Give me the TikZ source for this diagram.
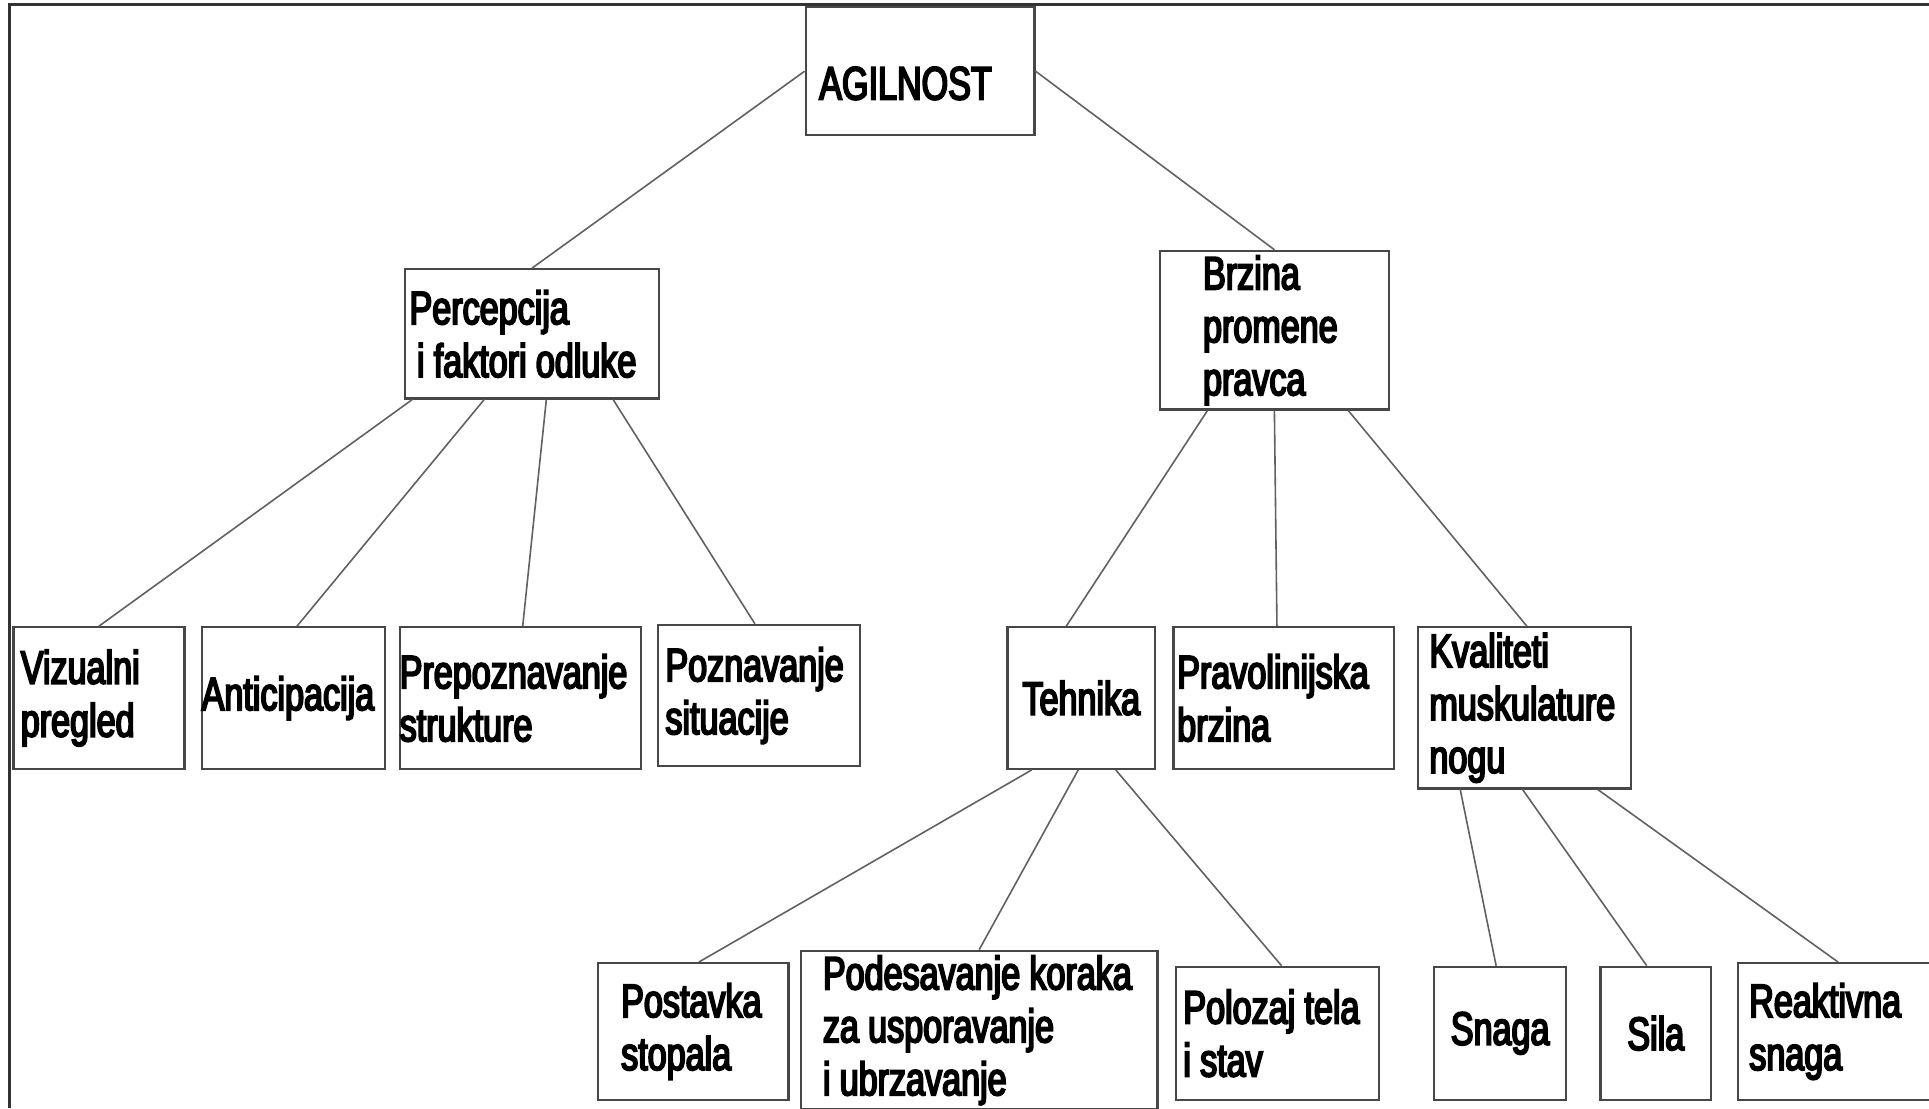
\documentclass[tikz,border=0pt]{standalone}
\usepackage{fontspec}
\setmainfont{Liberation Sans}[FakeStretch=0.73,FakeBold=4]
\usetikzlibrary{calc}

\begin{document}
\begin{tikzpicture}[x=1pt,y=-1pt,
    font=\fontsize{38}{43}\selectfont,
    box/.style={draw=black!72,line width=1.8pt,rectangle,anchor=north west,align=left,inner ysep=0pt,
        execute at begin node={\spaceskip=7.5pt\xspaceskip=7.5pt\hyphenpenalty=10000\relax}},
    link/.style={draw=black!62,line width=1.3pt}]
    \useasboundingbox (0,0) rectangle (1568,901);
    \draw[line width=2.4pt,black!80] (8,901) -- (8,4) -- (1568,4);
    % top and second level
    \node[box,minimum width=186,minimum height=104,inner xsep=11,text width=164,text height=46pt,text depth=0pt] (agil) at (654,5) {AGILNOST};
    \node[box,minimum width=207,minimum height=105,inner xsep=4,text width=199] (perc) at (328,218) {Percepcija\\\hspace*{6pt}i faktori odluke};
    \node[box,minimum width=186,minimum height=129,inner xsep=35,text width=116] (brz) at (942,203) {Brzina\\promene\\pravca};
    % third level
    \node[box,minimum width=139,minimum height=115,inner xsep=6,text width=127] (viz) at (10,509) {Vizualni\\pregled};
    \node[box,minimum width=149,minimum height=115,inner xsep=0,text width=149] (anti) at (163,509) {Anticipacija};
    \node[box,minimum width=196,minimum height=115,inner xsep=0,text width=196] (prep) at (324,509) {Prepoznavanje\\strukture};
    \node[box,minimum width=164,minimum height=115,inner xsep=6,text width=152] (pozn) at (534,507) {Poznavanje\\situacije};
    \node[box,minimum width=120,minimum height=115,inner xsep=0,text width=120,align=center] (tehn) at (818,509) {Tehnika};
    \node[box,minimum width=179,minimum height=115,inner xsep=3,text width=173] (prav) at (953,509) {Pravolinijska\\brzina};
    \node[box,minimum width=173,minimum height=131,inner xsep=9,text width=155] (kval) at (1152,509) {Kvaliteti\\muskulature\\nogu};
    % bottom level
    \node[box,minimum width=155,minimum height=111,inner xsep=19,text width=117] (post) at (485,782) {Postavka\\stopala};
    \node[box,minimum width=290,minimum height=129,inner xsep=18,text width=254] (pode) at (650,772) {Podesavanje koraka\\za usporavanje\\i ubrzavanje};
    \node[box,minimum width=165,minimum height=108,inner xsep=6,text width=153] (polo) at (955,785) {Polozaj tela\\i stav};
    \node[box,minimum width=107,minimum height=108,inner xsep=0,text width=107,align=center] (snag) at (1165,785) {Snaga};
    \node[box,minimum width=90,minimum height=108,inner xsep=0,text width=90,align=center] (sila) at (1300,785) {Sila};
    \node[box,minimum width=156,minimum height=111,inner xsep=9,text width=138] (reak) at (1412,782) {Reaktivna\\snaga};
    % connectors
    \draw[link] (agil.west) -- (perc.north);
    \draw[link] (agil.east) -- (brz.north);
    \foreach \p/\f/\c/\g in {perc/0.034/viz/0.5,perc/0.314/anti/0.52,perc/0.556/prep/0.51,perc/0.816/pozn/0.48,
        brz/0.21/tehn/0.4,brz/0.5/prav/0.47,brz/0.82/kval/0.51,
        tehn/0.17/post/0.53,tehn/0.48/pode/0.5,tehn/0.73/polo/0.52,
        kval/0.2/snag/0.47,kval/0.49/sila/0.42,kval/0.84/reak/0.52}
    \draw[link] ($(\p.south west)!\f!(\p.south east)$) -- ($(\c.north west)!\g!(\c.north east)$);
\end{tikzpicture}
\end{document}
